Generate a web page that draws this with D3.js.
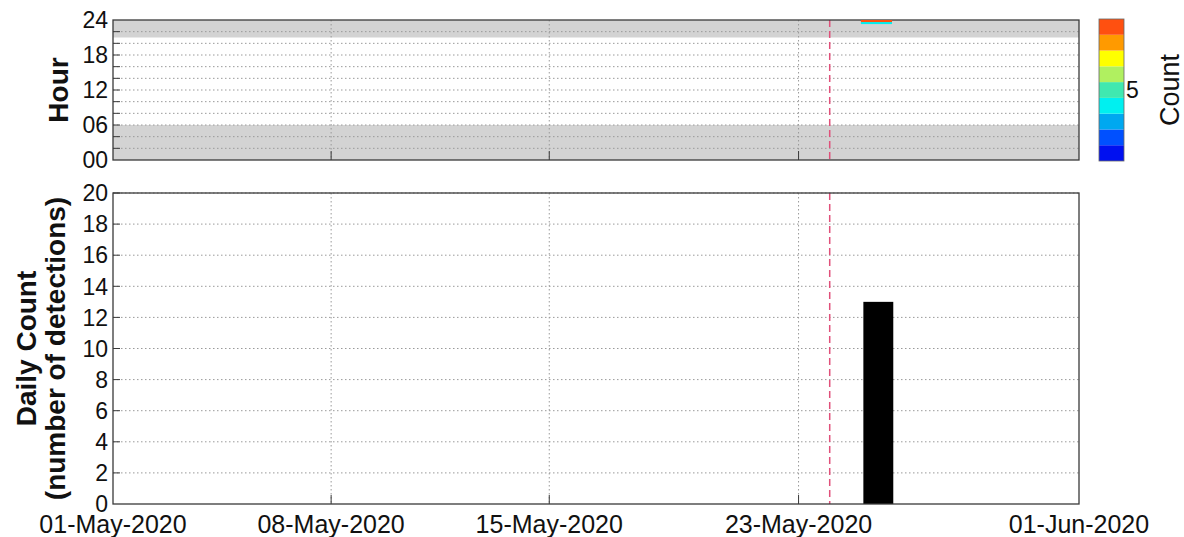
<!DOCTYPE html>
<html>
<head>
<meta charset="utf-8">
<script src="https://cdn.jsdelivr.net/npm/d3@7"></script>
<style>
  html, body { margin: 0; padding: 0; background: #fff; }
  svg { display: block; font-family: "Liberation Sans", Arial, sans-serif; }
</style>
</head>
<body>
<svg id="chart" width="1184" height="537"></svg>
<script>
// ---------- data ----------
const xTickDates  = ['2020-05-01', '2020-05-08', '2020-05-15', '2020-05-23', '2020-06-01'];
const xTickLabels = ['01-May-2020', '08-May-2020', '15-May-2020', '23-May-2020', '01-Jun-2020'];
const xDomain     = ['2020-05-01', '2020-06-01'];

const hourTickValues = [0, 6, 12, 18, 24];
const hourTickLabels = ['00', '06', '12', '18', '24'];
const hourGridValues = [2, 4, 6, 8, 10, 12, 14, 16, 18, 20, 22];
const nightStart = [0, 21];
const nightEnd   = [6, 24];

const countTicks = [0, 2, 4, 6, 8, 10, 12, 14, 16, 18, 20];

const barDays   = ['2020-05-25'];
const barCounts = [13];

const cellDays       = ['2020-05-25', '2020-05-25'];
const cellHourStart  = [23.3, 23.65];
const cellHourEnd    = [23.65, 24];
const cellCounts     = [4, 9];

const eventDates = ['2020-05-24'];

const colorLevels = [1, 2, 3, 4, 5, 6, 7, 8, 9];
const colorValues = ['#0010f0', '#0050ff', '#00a8f0', '#00f0f0', '#40e8b0',
                     '#b0f060', '#ffff00', '#ff9a00', '#ff5010'];
const colorTicks  = [5];

// ---------- layout ----------
const svg = d3.select('#chart');
const L = 113, R = 1079;
const topPanel = { y0: 20, y1: 160 };
const botPanel = { y0: 193, y1: 504 };
const cb = { x0: 1099, x1: 1124, y0: 19, y1: 161 };
const BAR_WIDTH_DAYS = 0.96, BAR_OFFSET_DAYS = 0.56;
const DAY = 864e5;

const parse = s => new Date(s + 'T00:00:00Z');
const x = d3.scaleUtc().domain(xDomain.map(parse)).range([L, R]);
const yH = d3.scaleLinear().domain([0, 24]).range([topPanel.y1, topPanel.y0]);
const yC = d3.scaleLinear().domain([0, 20]).range([botPanel.y1, botPanel.y0]);
const color = d3.scaleOrdinal().domain(colorLevels).range(colorValues);
const yCB = d3.scaleLinear().domain([0.5, 9.5]).range([cb.y1, cb.y0]);

const gridStyle = sel => sel.attr('stroke', '#9a9a9a').attr('stroke-width', 1)
  .attr('stroke-dasharray', '1.5,2.5');
const frameColor = '#3a3a3a';

// ---------- top panel ----------
const gT = svg.append('g');
gT.append('rect').attr('x', L).attr('y', topPanel.y0).attr('width', R - L)
  .attr('height', topPanel.y1 - topPanel.y0).attr('fill', '#fff');
gT.selectAll('rect.night').data(nightStart).join('rect').attr('class', 'night')
  .attr('x', L).attr('width', R - L)
  .attr('y', (d, i) => yH(nightEnd[i]))
  .attr('height', (d, i) => yH(d) - yH(nightEnd[i]))
  .attr('fill', '#d3d3d3');
gT.selectAll('line.hg').data(hourGridValues).join('line').attr('class', 'hg')
  .attr('x1', L).attr('x2', R).attr('y1', d => yH(d)).attr('y2', d => yH(d))
  .call(gridStyle);
gT.selectAll('line.vg').data(xTickDates.slice(1, -1)).join('line').attr('class', 'vg')
  .attr('x1', d => x(parse(d))).attr('x2', d => x(parse(d)))
  .attr('y1', topPanel.y0).attr('y2', topPanel.y1).call(gridStyle);
// y ticks inward
gT.selectAll('line.yt').data(hourGridValues).join('line').attr('class', 'yt')
  .attr('x1', L).attr('x2', L + 7).attr('y1', d => yH(d)).attr('y2', d => yH(d))
  .attr('stroke', frameColor);
gT.selectAll('line.xt').data(xTickDates.slice(1, -1)).join('line').attr('class', 'xt')
  .attr('x1', d => x(parse(d))).attr('x2', d => x(parse(d)))
  .attr('y1', topPanel.y1).attr('y2', topPanel.y1 - 9).attr('stroke', frameColor);
gT.selectAll('text.ht').data(hourTickValues).join('text').attr('class', 'ht')
  .attr('x', L - 5).attr('y', d => yH(d)).attr('dy', '0.36em')
  .attr('text-anchor', 'end').attr('font-size', 23).attr('fill', '#111')
  .text((d, i) => hourTickLabels[i]);
gT.append('text').attr('transform', `translate(68,${(topPanel.y0 + topPanel.y1) / 2}) rotate(-90)`)
  .attr('text-anchor', 'middle').attr('font-size', 28).attr('font-weight', 'bold')
  .attr('fill', '#111').text('Hour');

// ---------- bottom panel ----------
const gB = svg.append('g');
gB.selectAll('line.cg').data(countTicks.slice(1)).join('line').attr('class', 'cg')
  .attr('x1', L).attr('x2', R).attr('y1', d => yC(d)).attr('y2', d => yC(d))
  .call(gridStyle);
gB.selectAll('line.vg').data(xTickDates.slice(1, -1)).join('line').attr('class', 'vg')
  .attr('x1', d => x(parse(d))).attr('x2', d => x(parse(d)))
  .attr('y1', botPanel.y0).attr('y2', botPanel.y1).call(gridStyle);
gB.selectAll('rect.bar').data(barCounts).join('rect').attr('class', 'bar')
  .attr('x', (d, i) => x(new Date(+parse(barDays[i]) + (BAR_OFFSET_DAYS - BAR_WIDTH_DAYS / 2) * DAY)))
  .attr('width', (d, i) => x(new Date(+parse(barDays[i]) + BAR_WIDTH_DAYS * DAY)) - x(parse(barDays[i])))
  .attr('y', d => yC(d)).attr('height', d => yC(0) - yC(d))
  .attr('fill', '#000');
gB.selectAll('line.yt').data(countTicks.slice(1)).join('line').attr('class', 'yt')
  .attr('x1', L).attr('x2', L + 7).attr('y1', d => yC(d)).attr('y2', d => yC(d))
  .attr('stroke', frameColor);
gB.selectAll('line.xt').data(xTickDates.slice(1, -1)).join('line').attr('class', 'xt')
  .attr('x1', d => x(parse(d))).attr('x2', d => x(parse(d)))
  .attr('y1', botPanel.y1).attr('y2', botPanel.y1 - 9).attr('stroke', frameColor);
gB.selectAll('text.ct').data(countTicks).join('text').attr('class', 'ct')
  .attr('x', L - 5).attr('y', d => yC(d)).attr('dy', '0.36em')
  .attr('text-anchor', 'end').attr('font-size', 23).attr('fill', '#111')
  .text(d => d);
gB.selectAll('text.xl').data(xTickDates).join('text').attr('class', 'xl')
  .attr('x', d => x(parse(d))).attr('y', 533)
  .attr('text-anchor', 'middle').attr('font-size', 25).attr('fill', '#111')
  .text((d, i) => xTickLabels[i]);
const yMid = (botPanel.y0 + botPanel.y1) / 2;
gB.append('text').attr('transform', `translate(36,${yMid}) rotate(-90)`)
  .attr('text-anchor', 'middle').attr('font-size', 28).attr('font-weight', 'bold')
  .attr('fill', '#111').text('Daily Count');
gB.append('text').attr('transform', `translate(65,${yMid}) rotate(-90)`)
  .attr('text-anchor', 'middle').attr('font-size', 28).attr('font-weight', 'bold')
  .attr('fill', '#111').text('(number of detections)');

// ---------- event lines ----------
[[topPanel.y0, topPanel.y1], [botPanel.y0, botPanel.y1]].forEach(([a, b]) => {
  svg.selectAll(null).data(eventDates).join('line')
    .attr('x1', d => x(parse(d))).attr('x2', d => x(parse(d)))
    .attr('y1', a).attr('y2', b)
    .attr('stroke', '#e0507a').attr('stroke-width', 1.5).attr('stroke-dasharray', '7,4');
});

// ---------- frames ----------
[[topPanel.y0, topPanel.y1], [botPanel.y0, botPanel.y1]].forEach(([a, b]) => {
  svg.append('rect').attr('x', L).attr('y', a).attr('width', R - L).attr('height', b - a)
    .attr('fill', 'none').attr('stroke', frameColor).attr('stroke-width', 1.3);
});

// detection cells drawn above the frame (as in the reference)
svg.selectAll('rect.cell').data(cellCounts).join('rect').attr('class', 'cell')
  .attr('x', (d, i) => x(parse(cellDays[i])))
  .attr('width', (d, i) => x(new Date(+parse(cellDays[i]) + DAY)) - x(parse(cellDays[i])))
  .attr('y', (d, i) => yH(cellHourEnd[i]))
  .attr('height', (d, i) => yH(cellHourStart[i]) - yH(cellHourEnd[i]))
  .attr('fill', d => color(d));

// ---------- colorbar ----------
const gC = svg.append('g');
gC.selectAll('rect').data(colorLevels).join('rect')
  .attr('x', cb.x0).attr('width', cb.x1 - cb.x0)
  .attr('y', d => yCB(d + 0.5)).attr('height', d => yCB(d - 0.5) - yCB(d + 0.5))
  .attr('fill', d => color(d));
gC.append('rect').attr('x', cb.x0).attr('y', cb.y0).attr('width', cb.x1 - cb.x0)
  .attr('height', cb.y1 - cb.y0).attr('fill', 'none').attr('stroke', '#666').attr('stroke-width', 0.8);
gC.selectAll('text').data(colorTicks).join('text')
  .attr('x', cb.x1 + 2).attr('y', d => yCB(d)).attr('dy', '0.36em')
  .attr('font-size', 23).attr('fill', '#111').text(d => d);
svg.append('text').attr('transform', `translate(1179,${(cb.y0 + cb.y1) / 2}) rotate(-90)`)
  .attr('text-anchor', 'middle').attr('font-size', 27).attr('fill', '#111').text('Count');
</script>
</body>
</html>
